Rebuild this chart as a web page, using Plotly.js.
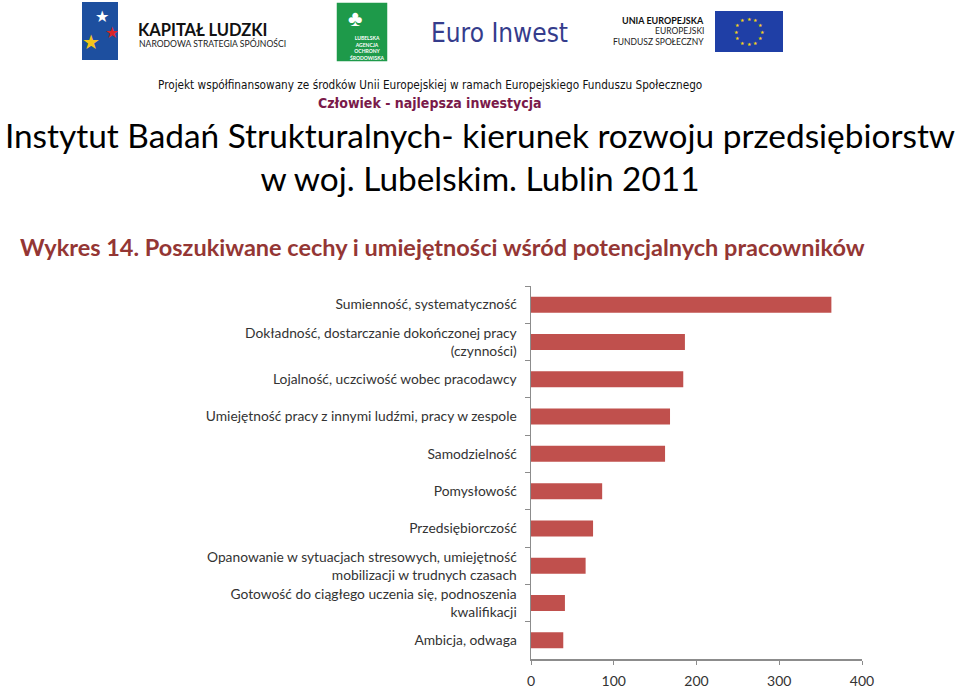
<!DOCTYPE html>
<html>
<head>
<meta charset="utf-8">
<script src="https://cdn.plot.ly/plotly-3.0.1.min.js"></script>
<style>html,body{margin:0;padding:0;background:#fff;}#chart{width:960px;height:690px;}</style>
</head>
<body>
<div id="chart"></div>
<script>
var categories = [
  "Sumienność, systematyczność",
  "Dokładność, dostarczanie dokończonej pracy<br>(czynności)",
  "Lojalność, uczciwość wobec pracodawcy",
  "Umiejętność pracy z innymi ludźmi, pracy w zespole",
  "Samodzielność",
  "Pomysłowość",
  "Przedsiębiorczość",
  "Opanowanie w sytuacjach stresowych, umiejętność<br>mobilizacji w trudnych czasach",
  "Gotowość do ciągłego uczenia się, podnoszenia<br>kwalifikacji",
  "Ambicja, odwaga"
];
var values = [363, 186, 184, 168, 162, 86, 75, 66, 41, 39];
var xTicks = [0, 100, 200, 300, 400];

var font = "Lato, 'Open Sans', sans-serif";
var narrow = "'Liberation Sans Narrow', 'DejaVu Sans Condensed', sans-serif";
var W = 960, H = 690;
var M = {l:531, r:98, t:286, b:31};
var PW = W - M.l - M.r, PH = H - M.t - M.b;
// pixel -> paper coordinates (for decorations placed around the plot)
function px(x){return (x - M.l) / PW;}
function py(y){return (H - M.b - y) / PH;}

var shapes = [];
var ann = [];

// --- Logo strip (decoration) ---
// Kapitał Ludzki
shapes.push({type:'rect', xref:'paper', yref:'paper', x0:px(82), x1:px(118), y0:py(60), y1:py(2), fillcolor:'#1d4f9f', line:{width:0}, layer:'above'});
ann.push({text:'★', x:px(102), y:py(16), font:{size:16, color:'#ffffff'}});
ann.push({text:'★', x:px(112), y:py(32), font:{size:16, color:'#d9262a'}});
ann.push({text:'★', x:px(91), y:py(41), font:{size:20, color:'#f4c51c'}});
ann.push({text:'<b>KAPITAŁ LUDZKI</b>', x:px(136), y:py(30), xanchor:'left', font:{size:16.5, color:'#111', family:font}});
ann.push({text:'NARODOWA STRATEGIA SPÓJNOŚCI', x:px(137), y:py(43), xanchor:'left', font:{size:8.6, color:'#222', family:font}});
// Lubelska Agencja
shapes.push({type:'rect', xref:'paper', yref:'paper', x0:px(336), x1:px(388), y0:py(62), y1:py(2), fillcolor:'#1e9a4a', line:{width:1.5, color:'#ffffff'}, layer:'above'});
ann.push({text:'♣', x:px(355), y:py(17), font:{size:22, color:'#ffffff'}});
ann.push({text:'<b>LUBELSKA<br>AGENCJA<br>OCHRONY<br>ŚRODOWISKA</b>', x:px(367), y:py(48), font:{size:5, color:'#ffffff', family:font}});
// Euro Inwest
ann.push({text:'Euro Inwest', x:px(429), y:py(33), xanchor:'left', font:{size:26, color:'#353c8c', family:"'DejaVu Sans Condensed', 'Liberation Sans Narrow', sans-serif"}});
// EU
ann.push({text:'<b>UNIA EUROPEJSKA</b>', x:px(706), y:py(20), xanchor:'right', font:{size:9, color:'#111', family:font}});
ann.push({text:'EUROPEJSKI', x:px(706), y:py(31), xanchor:'right', font:{size:8.5, color:'#222', family:font}});
ann.push({text:'FUNDUSZ SPOŁECZNY', x:px(706), y:py(42), xanchor:'right', font:{size:8.5, color:'#222', family:font}});
shapes.push({type:'rect', xref:'paper', yref:'paper', x0:px(715), x1:px(783), y0:py(52), y1:py(11), fillcolor:'#1f3fa6', line:{width:0}, layer:'above'});
for (var i = 0; i < 12; i++) {
  var a = i * Math.PI / 6;
  ann.push({text:'★', x:px(749 + 13 * Math.sin(a)), y:py(31.5 - 13 * Math.cos(a)), font:{size:5, color:'#f7d418'}, borderpad:0});
}
ann.push({text:'Projekt współfinansowany ze środków Unii Europejskiej w ramach Europejskiego Funduszu Społecznego', x:px(430), y:py(85), font:{size:11.7, color:'#111', family:narrow}});
ann.push({text:'<b>Człowiek - najlepsza inwestycja</b>', x:px(430), y:py(103), font:{size:14, color:'#7a1a4a', family:narrow}});

// Chart heading
ann.push({text:'<b>Wykres 14. Poszukiwane cechy i umiejętności wśród potencjalnych pracowników</b>', x:px(18), y:py(247), xanchor:'left', font:{size:23.5, color:'#943634', family:font}});

ann.forEach(function(o){ o.xref='paper'; o.yref='paper'; o.showarrow=false; if(!o.yanchor) o.yanchor='middle'; if(!o.xanchor) o.xanchor='center'; });

var trace = {
  type:'bar',
  orientation:'h',
  y: categories,
  x: values,
  marker:{color:'#c0504d'},
  hoverinfo:'x+y'
};

var layout = {
  width: W, height: H,
  paper_bgcolor:'#ffffff', plot_bgcolor:'#ffffff',
  margin:M,
  showlegend:false,
  bargap:0.57,
  title:{
    text:'Instytut Badań Strukturalnych- kierunek rozwoju przedsiębiorstw<br>w woj. Lubelskim. Lublin 2011',
    x:0.5, xanchor:'center', y:(H - 148) / H, yanchor:'top', yref:'container',
    font:{size:33.4, color:'#000', family:font}
  },
  xaxis:{
    range:[0,400], tickvals:xTicks, ticktext:xTicks.map(String),
    showgrid:false, zeroline:false,
    showline:true, linecolor:'#8c8c8c', linewidth:1.5,
    ticks:'outside', ticklen:4, tickcolor:'#8c8c8c',
    tickfont:{size:14, color:'#333', family:font},
    ticklabelstandoff:5,
    fixedrange:true
  },
  yaxis:{
    type:'category', autorange:'reversed',
    showgrid:false, zeroline:false,
    showline:true, linecolor:'#8c8c8c', linewidth:1.5,
    ticks:'outside', ticklen:5, tickcolor:'#8c8c8c', tickson:'boundaries',
    tickfont:{size:13.8, color:'#333', family:font},
    ticklabelstandoff:10,
    fixedrange:true
  },
  shapes: shapes,
  annotations: ann
};

Plotly.newPlot('chart', [trace], layout, {displayModeBar:false, staticPlot:true});
</script>
</body>
</html>
